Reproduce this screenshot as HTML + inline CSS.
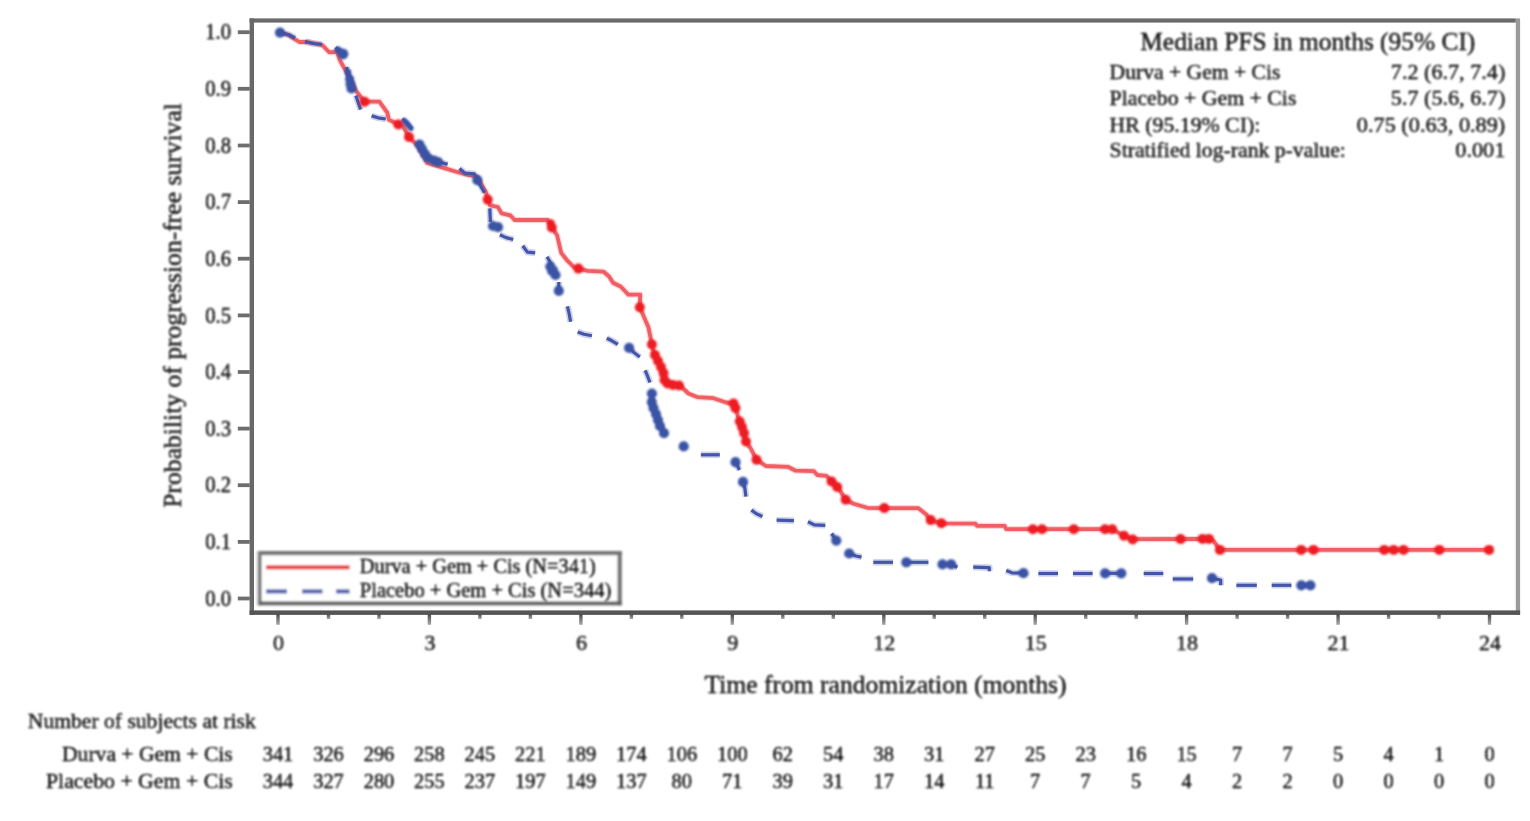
<!DOCTYPE html>
<html><head><meta charset="utf-8"><title>KM plot</title>
<style>html,body{margin:0;padding:0;background:#fff;}body{width:1530px;height:821px;overflow:hidden;}svg{display:block;font-family:"Liberation Serif",serif;}text{fill:#0a0a0a;stroke:#0a0a0a;stroke-width:0.32px;}</style></head><body>
<svg width="1530" height="821" viewBox="0 0 1530 821">
<defs><filter id="b" x="-5%" y="-5%" width="110%" height="110%"><feGaussianBlur stdDeviation="0.9"/></filter><filter id="bf" x="-2%" y="-2%" width="104%" height="104%"><feGaussianBlur stdDeviation="0.6"/></filter><linearGradient id="tg" x1="0" y1="0" x2="0" y2="1"><stop offset="0" stop-color="#4a4a4a"/><stop offset="1" stop-color="#a8a8a8"/></linearGradient><filter id="bt" x="-5%" y="-20%" width="110%" height="140%"><feGaussianBlur stdDeviation="0.95"/></filter></defs>
<rect x="0" y="0" width="1530" height="821" fill="#ffffff"/>
<g filter="url(#bf)">
<rect x="249.6" y="18.4" width="1266.2" height="4.2" fill="#6a6a6a"/>
<rect x="1515.8" y="18.4" width="4.3" height="596.5" fill="#9a9a9a"/>
<rect x="249.6" y="18.4" width="4.4" height="596.5" fill="#686868"/>
<rect x="249.6" y="610.4" width="1270.5" height="4.5" fill="#555555"/>
<rect x="237.8" y="596.6" width="12" height="3.8" fill="#6e6e6e"/>
<rect x="237.8" y="540.0" width="12" height="3.8" fill="#6e6e6e"/>
<rect x="237.8" y="483.3" width="12" height="3.8" fill="#6e6e6e"/>
<rect x="237.8" y="426.7" width="12" height="3.8" fill="#6e6e6e"/>
<rect x="237.8" y="370.1" width="12" height="3.8" fill="#6e6e6e"/>
<rect x="237.8" y="313.5" width="12" height="3.8" fill="#6e6e6e"/>
<rect x="237.8" y="256.8" width="12" height="3.8" fill="#6e6e6e"/>
<rect x="237.8" y="200.2" width="12" height="3.8" fill="#6e6e6e"/>
<rect x="237.8" y="143.6" width="12" height="3.8" fill="#6e6e6e"/>
<rect x="237.8" y="86.9" width="12" height="3.8" fill="#6e6e6e"/>
<rect x="237.8" y="30.3" width="12" height="3.8" fill="#6e6e6e"/>
<rect x="276.3" y="614" width="3.4" height="10.8" fill="url(#tg)"/>
<rect x="326.8" y="614" width="3.4" height="5" fill="url(#tg)"/>
<rect x="377.3" y="614" width="3.4" height="5" fill="url(#tg)"/>
<rect x="427.7" y="614" width="3.4" height="10.8" fill="url(#tg)"/>
<rect x="478.2" y="614" width="3.4" height="5" fill="url(#tg)"/>
<rect x="528.7" y="614" width="3.4" height="5" fill="url(#tg)"/>
<rect x="579.2" y="614" width="3.4" height="10.8" fill="url(#tg)"/>
<rect x="629.7" y="614" width="3.4" height="5" fill="url(#tg)"/>
<rect x="680.1" y="614" width="3.4" height="5" fill="url(#tg)"/>
<rect x="730.6" y="614" width="3.4" height="10.8" fill="url(#tg)"/>
<rect x="781.1" y="614" width="3.4" height="5" fill="url(#tg)"/>
<rect x="831.6" y="614" width="3.4" height="5" fill="url(#tg)"/>
<rect x="882.1" y="614" width="3.4" height="10.8" fill="url(#tg)"/>
<rect x="932.5" y="614" width="3.4" height="5" fill="url(#tg)"/>
<rect x="983.0" y="614" width="3.4" height="5" fill="url(#tg)"/>
<rect x="1033.5" y="614" width="3.4" height="10.8" fill="url(#tg)"/>
<rect x="1084.0" y="614" width="3.4" height="5" fill="url(#tg)"/>
<rect x="1134.5" y="614" width="3.4" height="5" fill="url(#tg)"/>
<rect x="1184.9" y="614" width="3.4" height="10.8" fill="url(#tg)"/>
<rect x="1235.4" y="614" width="3.4" height="5" fill="url(#tg)"/>
<rect x="1285.9" y="614" width="3.4" height="5" fill="url(#tg)"/>
<rect x="1336.4" y="614" width="3.4" height="10.8" fill="url(#tg)"/>
<rect x="1386.9" y="614" width="3.4" height="5" fill="url(#tg)"/>
<rect x="1437.3" y="614" width="3.4" height="5" fill="url(#tg)"/>
<rect x="1487.8" y="614" width="3.4" height="10.8" fill="url(#tg)"/>
</g>
<g filter="url(#bf)" fill="none" stroke-linejoin="round" stroke-linecap="butt">
<polyline points="280.0,32.6 288.3,34.9 299.3,42.0 307.2,42.0 322.0,44.8 329.2,52.2 337.0,52.2 340.2,60.9 346.4,71.9 355.9,90.7 364.5,101.7 379.4,101.7 387.3,112.7 388.9,119.8 398.3,124.3 403.0,126.0 409.0,137.0 418.0,146.0 427.2,162.9 442.9,167.6 455.4,171.5 466.0,174.5 477.0,176.8 485.8,192.0 488.0,199.8 490.0,205.3 497.9,207.0 501.6,213.4 510.3,215.3 514.6,220.0 547.5,220.0 551.7,226.9 557.2,235.6 561.2,252.9 567.4,260.7 573.7,267.0 578.4,268.6 587.9,270.9 603.6,271.7 609.1,276.5 613.0,282.7 620.9,286.7 628.4,294.7 640.2,294.7 639.8,307.3 648.4,327.2 651.9,344.4 654.0,353.9 662.6,369.6 664.5,381.0 675.2,384.8 680.5,386.0 688.5,393.5 697.2,397.1 713.5,398.2 726.2,402.5 733.5,403.5 735.5,408.0 739.4,421.3 743.4,430.7 745.7,441.7 750.5,448.0 756.5,459.7 765.9,466.0 787.9,466.8 795.7,470.7 813.8,471.1 817.3,475.0 826.4,475.8 831.6,481.3 837.4,486.5 845.7,499.7 853.6,503.7 867.3,507.8 884.3,508.1 918.1,508.1 926.0,514.2 930.6,520.2 941.4,523.3 975.5,523.7 977.0,525.9 1004.6,525.9 1006.2,529.2 1112.2,529.2 1124.0,535.8 1132.7,539.2 1210.0,539.0 1213.6,541.0 1219.9,549.9 1489.1,549.9" stroke="#ee2a32" stroke-opacity="0.2" stroke-width="6.2"/>
<polyline points="280.0,32.6 288.3,34.9 299.3,42.0 307.2,42.0 322.0,44.8 329.2,52.2 337.0,52.2 340.2,60.9 346.4,71.9 355.9,90.7 364.5,101.7 379.4,101.7 387.3,112.7 388.9,119.8 398.3,124.3 403.0,126.0 409.0,137.0 418.0,146.0 427.2,162.9 442.9,167.6 455.4,171.5 466.0,174.5 477.0,176.8 485.8,192.0 488.0,199.8 490.0,205.3 497.9,207.0 501.6,213.4 510.3,215.3 514.6,220.0 547.5,220.0 551.7,226.9 557.2,235.6 561.2,252.9 567.4,260.7 573.7,267.0 578.4,268.6 587.9,270.9 603.6,271.7 609.1,276.5 613.0,282.7 620.9,286.7 628.4,294.7 640.2,294.7 639.8,307.3 648.4,327.2 651.9,344.4 654.0,353.9 662.6,369.6 664.5,381.0 675.2,384.8 680.5,386.0 688.5,393.5 697.2,397.1 713.5,398.2 726.2,402.5 733.5,403.5 735.5,408.0 739.4,421.3 743.4,430.7 745.7,441.7 750.5,448.0 756.5,459.7 765.9,466.0 787.9,466.8 795.7,470.7 813.8,471.1 817.3,475.0 826.4,475.8 831.6,481.3 837.4,486.5 845.7,499.7 853.6,503.7 867.3,507.8 884.3,508.1 918.1,508.1 926.0,514.2 930.6,520.2 941.4,523.3 975.5,523.7 977.0,525.9 1004.6,525.9 1006.2,529.2 1112.2,529.2 1124.0,535.8 1132.7,539.2 1210.0,539.0 1213.6,541.0 1219.9,549.9 1489.1,549.9" stroke="#f05d63" stroke-width="3.8"/>
<g stroke="#4651a6" stroke-opacity="0.25" stroke-width="6.6">
<polyline points="280.0,32.6 288.3,34.5 295.0,38.0"/>
<polyline points="305.0,41.5 313.0,43.5 322.0,44.5"/>
<polyline points="335.5,47.5 338.5,50.5 342.0,54.0"/>
<polyline points="346.5,67.0 349.0,77.0 352.0,86.0 353.5,91.0"/>
<polyline points="355.9,95.4 358.0,102.0 360.6,109.6"/>
<polyline points="371.6,115.9 378.0,117.8 385.7,119.0"/>
<polyline points="402.2,119.0 407.0,123.0 411.7,129.0"/>
<polyline points="417.7,142.4 425.6,155.0 436.6,161.3 447.6,164.4"/>
<polyline points="459.5,168.5 464.9,173.1 474.3,173.9 477.4,180.2 484.5,192.7"/>
<polyline points="489.8,208.4 490.4,222.0"/>
<polyline points="499.9,234.8 506.0,237.6 513.2,239.5"/>
<polyline points="522.7,245.8 527.4,252.1 535.2,252.9"/>
<polyline points="547.0,256.8 549.5,261.0 551.7,265.4"/>
<polyline points="558.8,282.0 558.8,290.0"/>
<polyline points="567.4,306.3 569.0,313.0 570.6,321.7"/>
<polyline points="577.7,331.9 584.0,334.2 591.9,335.8"/>
<polyline points="606.8,338.2 612.0,340.8 617.8,344.4"/>
<polyline points="629.1,347.9 634.0,352.5 639.8,357.0"/>
<polyline points="645.2,370.3 647.5,376.0 650.0,382.5"/>
<polyline points="651.9,393.5 651.4,404.0 655.0,413.0 659.3,422.9 664.0,433.1"/>
<polyline points="700.9,454.8 719.8,454.8"/>
<polyline points="735.5,462.2 737.8,466.5 739.4,470.0"/>
<polyline points="743.3,482.1 745.0,489.0 745.9,496.6"/>
<polyline points="751.4,509.9 756.0,513.5 762.4,516.5"/>
<polyline points="776.6,520.2 793.9,520.6"/>
<polyline points="808.0,521.7 814.3,524.9 825.3,525.3"/>
<polyline points="831.6,533.5 836.3,540.6"/>
<polyline points="849.2,553.5 856.0,556.0 861.5,557.1"/>
<polyline points="873.3,562.3 893.0,562.3"/>
<polyline points="906.3,562.3 928.4,562.3"/>
<polyline points="951.2,564.6 957.4,567.2"/>
<polyline points="973.2,567.2 989.3,567.6 989.3,571.2"/>
<polyline points="1006.2,570.6 1012.0,572.8 1023.5,573.2"/>
<polyline points="1038.4,573.5 1058.0,573.5"/>
<polyline points="1073.0,573.5 1092.6,573.5"/>
<polyline points="1105.1,573.3 1121.3,573.3"/>
<polyline points="1143.7,573.5 1163.3,573.5"/>
<polyline points="1172.7,579.0 1193.2,579.0"/>
<polyline points="1212.0,578.2 1220.7,580.0 1220.7,585.3"/>
<polyline points="1236.4,585.3 1256.8,585.3"/>
<polyline points="1271.7,585.3 1291.4,585.3"/>
<polyline points="1300.8,585.3 1310.3,585.3"/>
</g>
<g stroke="#4256ab" stroke-width="3.2">
<polyline points="280.0,32.6 288.3,34.5 295.0,38.0"/>
<polyline points="305.0,41.5 313.0,43.5 322.0,44.5"/>
<polyline points="335.5,47.5 338.5,50.5 342.0,54.0"/>
<polyline points="346.5,67.0 349.0,77.0 352.0,86.0 353.5,91.0"/>
<polyline points="355.9,95.4 358.0,102.0 360.6,109.6"/>
<polyline points="371.6,115.9 378.0,117.8 385.7,119.0"/>
<polyline points="402.2,119.0 407.0,123.0 411.7,129.0"/>
<polyline points="417.7,142.4 425.6,155.0 436.6,161.3 447.6,164.4"/>
<polyline points="459.5,168.5 464.9,173.1 474.3,173.9 477.4,180.2 484.5,192.7"/>
<polyline points="489.8,208.4 490.4,222.0"/>
<polyline points="499.9,234.8 506.0,237.6 513.2,239.5"/>
<polyline points="522.7,245.8 527.4,252.1 535.2,252.9"/>
<polyline points="547.0,256.8 549.5,261.0 551.7,265.4"/>
<polyline points="558.8,282.0 558.8,290.0"/>
<polyline points="567.4,306.3 569.0,313.0 570.6,321.7"/>
<polyline points="577.7,331.9 584.0,334.2 591.9,335.8"/>
<polyline points="606.8,338.2 612.0,340.8 617.8,344.4"/>
<polyline points="629.1,347.9 634.0,352.5 639.8,357.0"/>
<polyline points="645.2,370.3 647.5,376.0 650.0,382.5"/>
<polyline points="651.9,393.5 651.4,404.0 655.0,413.0 659.3,422.9 664.0,433.1"/>
<polyline points="700.9,454.8 719.8,454.8"/>
<polyline points="735.5,462.2 737.8,466.5 739.4,470.0"/>
<polyline points="743.3,482.1 745.0,489.0 745.9,496.6"/>
<polyline points="751.4,509.9 756.0,513.5 762.4,516.5"/>
<polyline points="776.6,520.2 793.9,520.6"/>
<polyline points="808.0,521.7 814.3,524.9 825.3,525.3"/>
<polyline points="831.6,533.5 836.3,540.6"/>
<polyline points="849.2,553.5 856.0,556.0 861.5,557.1"/>
<polyline points="873.3,562.3 893.0,562.3"/>
<polyline points="906.3,562.3 928.4,562.3"/>
<polyline points="951.2,564.6 957.4,567.2"/>
<polyline points="973.2,567.2 989.3,567.6 989.3,571.2"/>
<polyline points="1006.2,570.6 1012.0,572.8 1023.5,573.2"/>
<polyline points="1038.4,573.5 1058.0,573.5"/>
<polyline points="1073.0,573.5 1092.6,573.5"/>
<polyline points="1105.1,573.3 1121.3,573.3"/>
<polyline points="1143.7,573.5 1163.3,573.5"/>
<polyline points="1172.7,579.0 1193.2,579.0"/>
<polyline points="1212.0,578.2 1220.7,580.0 1220.7,585.3"/>
<polyline points="1236.4,585.3 1256.8,585.3"/>
<polyline points="1271.7,585.3 1291.4,585.3"/>
<polyline points="1300.8,585.3 1310.3,585.3"/>
</g>
</g>
<g filter="url(#b)" fill="none">
<g fill="#ed1c24" stroke="none">
<circle cx="364.5" cy="101.7" r="5.0"/>
<circle cx="398.3" cy="124.5" r="5.0"/>
<circle cx="409.0" cy="137.0" r="5.0"/>
<circle cx="487.7" cy="199.6" r="5.0"/>
<circle cx="550.8" cy="223.5" r="4.2"/>
<circle cx="551.8" cy="227.5" r="5.0"/>
<circle cx="578.4" cy="268.6" r="5.0"/>
<circle cx="639.8" cy="307.3" r="5.0"/>
<circle cx="651.9" cy="344.4" r="5.0"/>
<circle cx="655.0" cy="355.0" r="5.0"/>
<circle cx="658.0" cy="361.0" r="5.0"/>
<circle cx="661.0" cy="367.0" r="5.0"/>
<circle cx="663.5" cy="373.0" r="5.0"/>
<circle cx="664.5" cy="380.0" r="5.0"/>
<circle cx="667.5" cy="383.5" r="5.0"/>
<circle cx="673.0" cy="385.0" r="5.0"/>
<circle cx="679.0" cy="385.5" r="5.0"/>
<circle cx="733.5" cy="403.5" r="5.0"/>
<circle cx="735.5" cy="408.0" r="5.0"/>
<circle cx="739.8" cy="421.5" r="5.0"/>
<circle cx="742.0" cy="427.0" r="5.0"/>
<circle cx="744.0" cy="433.0" r="5.0"/>
<circle cx="746.0" cy="441.5" r="5.0"/>
<circle cx="756.5" cy="459.7" r="5.0"/>
<circle cx="831.6" cy="481.5" r="5.0"/>
<circle cx="837.2" cy="487.0" r="5.0"/>
<circle cx="845.7" cy="499.7" r="5.0"/>
<circle cx="884.3" cy="508.1" r="5.0"/>
<circle cx="930.7" cy="520.1" r="5.0"/>
<circle cx="941.4" cy="523.3" r="5.0"/>
<circle cx="1032.9" cy="529.2" r="5.0"/>
<circle cx="1042.0" cy="529.2" r="5.0"/>
<circle cx="1073.8" cy="529.2" r="5.0"/>
<circle cx="1105.1" cy="529.2" r="5.0"/>
<circle cx="1112.2" cy="529.2" r="5.0"/>
<circle cx="1124.0" cy="535.8" r="5.0"/>
<circle cx="1132.7" cy="539.5" r="5.0"/>
<circle cx="1180.6" cy="539.1" r="5.0"/>
<circle cx="1202.6" cy="538.9" r="5.0"/>
<circle cx="1208.9" cy="538.9" r="5.0"/>
<circle cx="1219.9" cy="549.9" r="5.0"/>
<circle cx="1301.2" cy="549.9" r="5.0"/>
<circle cx="1313.5" cy="549.9" r="5.0"/>
<circle cx="1384.3" cy="549.9" r="5.0"/>
<circle cx="1393.7" cy="549.9" r="5.0"/>
<circle cx="1403.5" cy="549.9" r="5.0"/>
<circle cx="1439.3" cy="549.9" r="5.0"/>
<circle cx="1489.1" cy="549.9" r="5.0"/>
</g>
<g fill="#3a53a4" stroke="none">
<circle cx="280.0" cy="32.6" r="5.1"/>
<circle cx="343.0" cy="54.0" r="5.4"/>
<circle cx="338.3" cy="50.0" r="3.6"/>
<circle cx="348.0" cy="72.5" r="3.4"/>
<circle cx="349.6" cy="79.0" r="4.6"/>
<circle cx="350.5" cy="84.0" r="5.1"/>
<circle cx="351.5" cy="88.5" r="5.1"/>
<circle cx="404.3" cy="120.6" r="2.7"/>
<circle cx="406.5" cy="123.2" r="2.9"/>
<circle cx="408.8" cy="126.0" r="2.9"/>
<circle cx="411.0" cy="128.5" r="2.6"/>
<circle cx="419.5" cy="144.5" r="5.1"/>
<circle cx="422.0" cy="149.0" r="5.1"/>
<circle cx="425.0" cy="154.0" r="5.1"/>
<circle cx="428.0" cy="158.0" r="5.1"/>
<circle cx="434.0" cy="160.5" r="5.1"/>
<circle cx="438.0" cy="162.0" r="5.1"/>
<circle cx="477.4" cy="180.2" r="5.1"/>
<circle cx="493.0" cy="226.0" r="5.1"/>
<circle cx="498.0" cy="227.2" r="5.1"/>
<circle cx="550.3" cy="266.5" r="5.1"/>
<circle cx="552.5" cy="270.5" r="5.6"/>
<circle cx="555.5" cy="275.0" r="5.1"/>
<circle cx="558.8" cy="290.8" r="5.1"/>
<circle cx="629.1" cy="347.9" r="5.1"/>
<circle cx="651.9" cy="393.5" r="5.1"/>
<circle cx="651.8" cy="402.0" r="5.1"/>
<circle cx="653.5" cy="408.0" r="5.1"/>
<circle cx="656.0" cy="414.0" r="5.1"/>
<circle cx="658.0" cy="420.0" r="5.1"/>
<circle cx="660.0" cy="426.0" r="5.1"/>
<circle cx="664.0" cy="433.1" r="5.1"/>
<circle cx="683.7" cy="446.4" r="5.1"/>
<circle cx="735.5" cy="462.2" r="5.1"/>
<circle cx="743.0" cy="481.9" r="5.1"/>
<circle cx="836.3" cy="540.6" r="5.1"/>
<circle cx="849.2" cy="553.5" r="5.1"/>
<circle cx="906.3" cy="562.3" r="5.1"/>
<circle cx="942.5" cy="564.4" r="5.1"/>
<circle cx="951.1" cy="564.4" r="5.1"/>
<circle cx="1023.5" cy="573.2" r="5.1"/>
<circle cx="1105.1" cy="573.3" r="5.1"/>
<circle cx="1121.3" cy="573.3" r="5.1"/>
<circle cx="1212.0" cy="578.2" r="5.1"/>
<circle cx="1301.3" cy="585.3" r="5.1"/>
<circle cx="1310.4" cy="585.3" r="5.1"/>
</g>
</g>
<g filter="url(#b)">
<rect x="257" y="551" width="364.8" height="54.3" fill="#ffffff"/>
<rect x="256.8" y="551" width="2.1" height="54.3" fill="#c2c2c2"/>
<rect x="258.7" y="551" width="2.7" height="54.3" fill="#606060"/>
<rect x="258.7" y="551" width="363.1" height="4.2" fill="#747474"/>
<rect x="617.5" y="551" width="4.3" height="54.3" fill="#747474"/>
<rect x="258.7" y="601.4" width="363.1" height="3.9" fill="#646464"/>
<rect x="266" y="565.2" width="83.6" height="4.2" fill="#ef3a41"/>
<rect x="266" y="589.3" width="21" height="4.2" fill="#5563b0"/>
<rect x="302" y="589.3" width="20.5" height="4.2" fill="#5563b0"/>
<rect x="336" y="589.3" width="13.600000000000023" height="4.2" fill="#5563b0"/>
</g>
<g filter="url(#bt)">
<text x="359.8" y="573.2" font-size="19.9" text-anchor="start" textLength="236" lengthAdjust="spacingAndGlyphs" xml:space="preserve">Durva + Gem + Cis (N=341)</text>
<text x="359.8" y="597.2" font-size="19.9" text-anchor="start" textLength="251.5" lengthAdjust="spacingAndGlyphs" xml:space="preserve">Placebo + Gem + Cis (N=344)</text>
<text x="231.0" y="605.6" font-size="22.6" text-anchor="end" textLength="25.8" lengthAdjust="spacingAndGlyphs" xml:space="preserve">0.0</text>
<text x="231.0" y="549.0" font-size="22.6" text-anchor="end" textLength="25.8" lengthAdjust="spacingAndGlyphs" xml:space="preserve">0.1</text>
<text x="231.0" y="492.3" font-size="22.6" text-anchor="end" textLength="25.8" lengthAdjust="spacingAndGlyphs" xml:space="preserve">0.2</text>
<text x="231.0" y="435.7" font-size="22.6" text-anchor="end" textLength="25.8" lengthAdjust="spacingAndGlyphs" xml:space="preserve">0.3</text>
<text x="231.0" y="379.1" font-size="22.6" text-anchor="end" textLength="25.8" lengthAdjust="spacingAndGlyphs" xml:space="preserve">0.4</text>
<text x="231.0" y="322.5" font-size="22.6" text-anchor="end" textLength="25.8" lengthAdjust="spacingAndGlyphs" xml:space="preserve">0.5</text>
<text x="231.0" y="265.8" font-size="22.6" text-anchor="end" textLength="25.8" lengthAdjust="spacingAndGlyphs" xml:space="preserve">0.6</text>
<text x="231.0" y="209.2" font-size="22.6" text-anchor="end" textLength="25.8" lengthAdjust="spacingAndGlyphs" xml:space="preserve">0.7</text>
<text x="231.0" y="152.6" font-size="22.6" text-anchor="end" textLength="25.8" lengthAdjust="spacingAndGlyphs" xml:space="preserve">0.8</text>
<text x="231.0" y="95.9" font-size="22.6" text-anchor="end" textLength="25.8" lengthAdjust="spacingAndGlyphs" xml:space="preserve">0.9</text>
<text x="231.0" y="39.3" font-size="22.6" text-anchor="end" textLength="25.8" lengthAdjust="spacingAndGlyphs" xml:space="preserve">1.0</text>
<text x="278.5" y="650.1" font-size="22" text-anchor="middle" xml:space="preserve">0</text>
<text x="429.9" y="650.1" font-size="22" text-anchor="middle" xml:space="preserve">3</text>
<text x="581.4" y="650.1" font-size="22" text-anchor="middle" xml:space="preserve">6</text>
<text x="732.8" y="650.1" font-size="22" text-anchor="middle" xml:space="preserve">9</text>
<text x="884.3" y="650.1" font-size="22" text-anchor="middle" xml:space="preserve">12</text>
<text x="1035.7" y="650.1" font-size="22" text-anchor="middle" xml:space="preserve">15</text>
<text x="1187.1" y="650.1" font-size="22" text-anchor="middle" xml:space="preserve">18</text>
<text x="1338.6" y="650.1" font-size="22" text-anchor="middle" xml:space="preserve">21</text>
<text x="1490.0" y="650.1" font-size="22" text-anchor="middle" xml:space="preserve">24</text>
<text x="885.5" y="693" font-size="25.5" text-anchor="middle" textLength="362" lengthAdjust="spacingAndGlyphs" xml:space="preserve">Time from randomization (months)</text>
<text transform="translate(180.8,305.4) rotate(-90)" font-size="25.5" text-anchor="middle" textLength="404.6" lengthAdjust="spacingAndGlyphs">Probability of progression-free survival</text>
<text x="1307.8" y="50.2" font-size="25.4" text-anchor="middle" textLength="335" lengthAdjust="spacingAndGlyphs" xml:space="preserve">Median PFS in months (95% CI)</text>
<text x="1109.6" y="79" font-size="21.7" text-anchor="start" textLength="170.7" lengthAdjust="spacingAndGlyphs" xml:space="preserve">Durva + Gem + Cis</text>
<text x="1505.3" y="79" font-size="21.7" text-anchor="end" textLength="114.5" lengthAdjust="spacingAndGlyphs" xml:space="preserve">7.2 (6.7, 7.4)</text>
<text x="1109.6" y="105.3" font-size="21.7" text-anchor="start" textLength="186.8" lengthAdjust="spacingAndGlyphs" xml:space="preserve">Placebo + Gem + Cis</text>
<text x="1505.3" y="105.3" font-size="21.7" text-anchor="end" textLength="114.5" lengthAdjust="spacingAndGlyphs" xml:space="preserve">5.7 (5.6, 6.7)</text>
<text x="1109.6" y="131.5" font-size="21.7" text-anchor="start" textLength="150.6" lengthAdjust="spacingAndGlyphs" xml:space="preserve">HR (95.19% CI):</text>
<text x="1505.3" y="131.5" font-size="21.7" text-anchor="end" textLength="148.5" lengthAdjust="spacingAndGlyphs" xml:space="preserve">0.75 (0.63, 0.89)</text>
<text x="1109.6" y="156.8" font-size="21.7" text-anchor="start" textLength="236.3" lengthAdjust="spacingAndGlyphs" xml:space="preserve">Stratified log-rank p-value:</text>
<text x="1505.3" y="156.8" font-size="21.7" text-anchor="end" textLength="50" lengthAdjust="spacingAndGlyphs" xml:space="preserve">0.001</text>
<text x="27.8" y="728" font-size="21.6" text-anchor="start" textLength="228" lengthAdjust="spacingAndGlyphs" xml:space="preserve">Number of subjects at risk</text>
<text x="232.7" y="761.3" font-size="21.6" text-anchor="end" textLength="170.7" lengthAdjust="spacingAndGlyphs" xml:space="preserve">Durva + Gem + Cis</text>
<text x="232.7" y="788" font-size="21.6" text-anchor="end" textLength="186.7" lengthAdjust="spacingAndGlyphs" xml:space="preserve">Placebo + Gem + Cis</text>
<text x="278.0" y="761.3" font-size="20.4" text-anchor="middle" xml:space="preserve">341</text>
<text x="278.0" y="788" font-size="20.4" text-anchor="middle" xml:space="preserve">344</text>
<text x="328.5" y="761.3" font-size="20.4" text-anchor="middle" xml:space="preserve">326</text>
<text x="328.5" y="788" font-size="20.4" text-anchor="middle" xml:space="preserve">327</text>
<text x="379.0" y="761.3" font-size="20.4" text-anchor="middle" xml:space="preserve">296</text>
<text x="379.0" y="788" font-size="20.4" text-anchor="middle" xml:space="preserve">280</text>
<text x="429.4" y="761.3" font-size="20.4" text-anchor="middle" xml:space="preserve">258</text>
<text x="429.4" y="788" font-size="20.4" text-anchor="middle" xml:space="preserve">255</text>
<text x="479.9" y="761.3" font-size="20.4" text-anchor="middle" xml:space="preserve">245</text>
<text x="479.9" y="788" font-size="20.4" text-anchor="middle" xml:space="preserve">237</text>
<text x="530.4" y="761.3" font-size="20.4" text-anchor="middle" xml:space="preserve">221</text>
<text x="530.4" y="788" font-size="20.4" text-anchor="middle" xml:space="preserve">197</text>
<text x="580.9" y="761.3" font-size="20.4" text-anchor="middle" xml:space="preserve">189</text>
<text x="580.9" y="788" font-size="20.4" text-anchor="middle" xml:space="preserve">149</text>
<text x="631.4" y="761.3" font-size="20.4" text-anchor="middle" xml:space="preserve">174</text>
<text x="631.4" y="788" font-size="20.4" text-anchor="middle" xml:space="preserve">137</text>
<text x="681.8" y="761.3" font-size="20.4" text-anchor="middle" xml:space="preserve">106</text>
<text x="681.8" y="788" font-size="20.4" text-anchor="middle" xml:space="preserve">80</text>
<text x="732.3" y="761.3" font-size="20.4" text-anchor="middle" xml:space="preserve">100</text>
<text x="732.3" y="788" font-size="20.4" text-anchor="middle" xml:space="preserve">71</text>
<text x="782.8" y="761.3" font-size="20.4" text-anchor="middle" xml:space="preserve">62</text>
<text x="782.8" y="788" font-size="20.4" text-anchor="middle" xml:space="preserve">39</text>
<text x="833.3" y="761.3" font-size="20.4" text-anchor="middle" xml:space="preserve">54</text>
<text x="833.3" y="788" font-size="20.4" text-anchor="middle" xml:space="preserve">31</text>
<text x="883.8" y="761.3" font-size="20.4" text-anchor="middle" xml:space="preserve">38</text>
<text x="883.8" y="788" font-size="20.4" text-anchor="middle" xml:space="preserve">17</text>
<text x="934.2" y="761.3" font-size="20.4" text-anchor="middle" xml:space="preserve">31</text>
<text x="934.2" y="788" font-size="20.4" text-anchor="middle" xml:space="preserve">14</text>
<text x="984.7" y="761.3" font-size="20.4" text-anchor="middle" xml:space="preserve">27</text>
<text x="984.7" y="788" font-size="20.4" text-anchor="middle" xml:space="preserve">11</text>
<text x="1035.2" y="761.3" font-size="20.4" text-anchor="middle" xml:space="preserve">25</text>
<text x="1035.2" y="788" font-size="20.4" text-anchor="middle" xml:space="preserve">7</text>
<text x="1085.7" y="761.3" font-size="20.4" text-anchor="middle" xml:space="preserve">23</text>
<text x="1085.7" y="788" font-size="20.4" text-anchor="middle" xml:space="preserve">7</text>
<text x="1136.2" y="761.3" font-size="20.4" text-anchor="middle" xml:space="preserve">16</text>
<text x="1136.2" y="788" font-size="20.4" text-anchor="middle" xml:space="preserve">5</text>
<text x="1186.6" y="761.3" font-size="20.4" text-anchor="middle" xml:space="preserve">15</text>
<text x="1186.6" y="788" font-size="20.4" text-anchor="middle" xml:space="preserve">4</text>
<text x="1237.1" y="761.3" font-size="20.4" text-anchor="middle" xml:space="preserve">7</text>
<text x="1237.1" y="788" font-size="20.4" text-anchor="middle" xml:space="preserve">2</text>
<text x="1287.6" y="761.3" font-size="20.4" text-anchor="middle" xml:space="preserve">7</text>
<text x="1287.6" y="788" font-size="20.4" text-anchor="middle" xml:space="preserve">2</text>
<text x="1338.1" y="761.3" font-size="20.4" text-anchor="middle" xml:space="preserve">5</text>
<text x="1338.1" y="788" font-size="20.4" text-anchor="middle" xml:space="preserve">0</text>
<text x="1388.6" y="761.3" font-size="20.4" text-anchor="middle" xml:space="preserve">4</text>
<text x="1388.6" y="788" font-size="20.4" text-anchor="middle" xml:space="preserve">0</text>
<text x="1439.0" y="761.3" font-size="20.4" text-anchor="middle" xml:space="preserve">1</text>
<text x="1439.0" y="788" font-size="20.4" text-anchor="middle" xml:space="preserve">0</text>
<text x="1489.5" y="761.3" font-size="20.4" text-anchor="middle" xml:space="preserve">0</text>
<text x="1489.5" y="788" font-size="20.4" text-anchor="middle" xml:space="preserve">0</text>
</g>
</svg></body></html>
